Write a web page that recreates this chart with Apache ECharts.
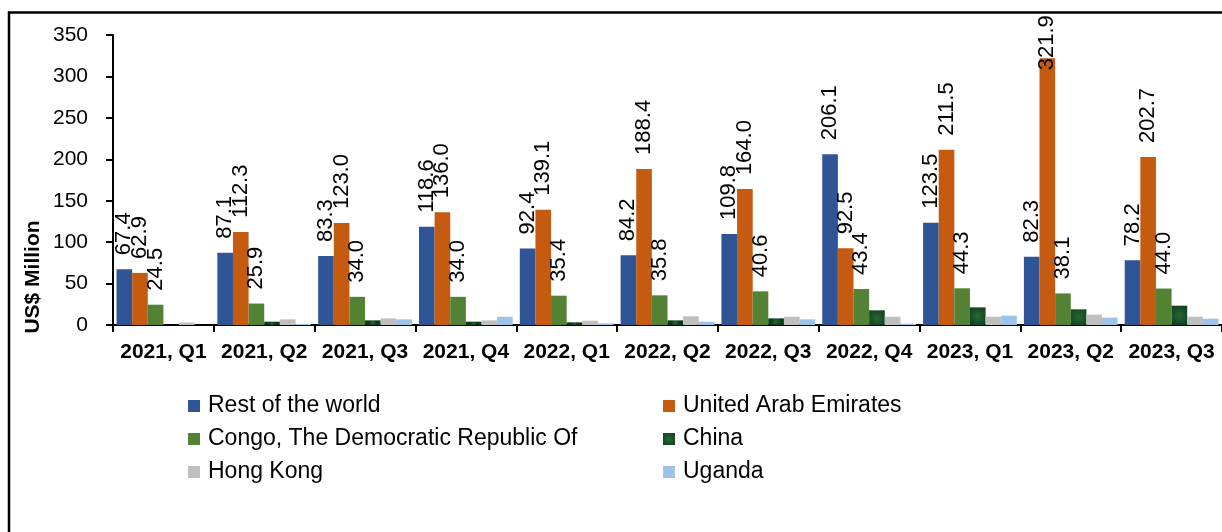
<!DOCTYPE html>
<html>
<head>
<meta charset="utf-8">
<script src="https://cdn.jsdelivr.net/npm/echarts@6/dist/echarts.min.js"></script>
<style>
  html, body { margin: 0; padding: 0; background: #fff; }
  #chart { width: 1222px; height: 532px; }
</style>
</head>
<body>
<div id="chart"></div>
<script>
// quarters on the x axis
const quarters = ['2021, Q1', '2021, Q2', '2021, Q3', '2021, Q4', '2022, Q1', '2022, Q2',
  '2022, Q3', '2022, Q4', '2023, Q1', '2023, Q2', '2023, Q3']
const yTicks = [0, 50, 100, 150, 200, 250, 300, 350]

// values in US$ million
const restOfWorld = [67.4, 87.1, 83.3, 118.6, 92.4, 84.2, 109.8, 206.1, 123.5, 82.3, 78.2]
const uae = [62.9, 112.3, 123.0, 136.0, 139.1, 188.4, 164.0, 92.5, 211.5, 321.9, 202.7]
const congo = [24.5, 25.9, 34.0, 34.0, 35.4, 35.8, 40.6, 43.4, 44.3, 38.1, 44.0]
const china = [0, 4.0, 5.6, 4.0, 3.2, 5.6, 8.0, 17.7, 21.3, 18.9, 23.3]
const hongKong = [3.0, 6.8, 8.0, 5.6, 5.2, 10.5, 10.0, 10.0, 10.0, 12.5, 10.0]
const uganda = [0, 1.2, 6.8, 10.0, 2.0, 4.0, 6.8, 1.6, 11.3, 8.9, 7.6]

const font = 'Liberation Sans, Arial, sans-serif'

var chart = echarts.init(document.getElementById('chart'))

// rotated value labels like the excel ones
const valLabel = {
  show: true,
  position: 'top',
  rotate: 90,
  align: 'left',
  verticalAlign: 'middle',
  distance: 14,
  fontFamily: font,
  fontSize: 22,
  color: '#000',
  formatter: p => p.value.toFixed(1)
}

// the biggest bar has no room above it, label sits inside the top
const uaeData = uae.map(v => v > 300
  ? { value: v, label: { position: 'insideTop', distance: 12 } }
  : v)

const chinaColor = {
  type: 'radial', x: 0.5, y: 0.5, r: 0.8,
  colorStops: [{ offset: 0, color: '#2a6636' }, { offset: 1, color: '#0a3b18' }]
}

const legendBase = {
  orient: 'vertical',
  top: 389,
  icon: 'rect',
  itemWidth: 12,
  itemHeight: 12,
  itemGap: 9,
  textStyle: { fontFamily: font, fontSize: 23, color: '#000', lineHeight: 24, padding: [0, 0, 0, 3] }
}

chart.setOption({
  animation: false,
  grid: { left: 113, top: 35, width: 1110, bottom: 207, containLabel: false },
  legend: [
    Object.assign({}, legendBase, { left: 183, data: ['Rest of the world', 'Congo, The Democratic Republic Of', 'Hong Kong'] }),
    Object.assign({}, legendBase, { left: 658, data: ['United Arab Emirates', 'China', 'Uganda'] })
  ],
  xAxis: {
    type: 'category',
    data: quarters,
    axisLine: { lineStyle: { color: '#000', width: 2 } },
    axisTick: { show: true, length: 7, lineStyle: { color: '#000', width: 2 } },
    axisLabel: { fontFamily: font, fontSize: 21, fontWeight: 'bold', color: '#000', margin: 17, interval: 0 }
  },
  yAxis: {
    type: 'value',
    min: yTicks[0],
    max: yTicks[yTicks.length - 1],
    interval: 50,
    splitLine: { show: false },
    axisLine: { show: true, lineStyle: { color: '#000', width: 2 } },
    axisTick: { show: true, length: 7, lineStyle: { color: '#000', width: 2 } },
    axisLabel: { fontFamily: font, fontSize: 21, color: '#000', margin: 25 }
  },
  graphic: [
    // outer frame of the figure
    { type: 'polyline', shape: { points: [[9, 532], [9, 12.5], [1222, 12.5]] }, style: { stroke: '#000', lineWidth: 2.5, fill: null } },
    {
      type: 'text', x: 33, y: 277, rotation: Math.PI / 2,
      style: { text: 'US$ Million', font: 'bold 21px ' + font, fill: '#000', textAlign: 'center', textVerticalAlign: 'middle' }
    }
  ],
  series: [
    { name: 'Rest of the world', type: 'bar', data: restOfWorld, itemStyle: { color: '#2F5597' }, label: valLabel, barGap: '0%', barCategoryGap: '7%' },
    { name: 'United Arab Emirates', type: 'bar', data: uaeData, itemStyle: { color: '#C55A11' }, label: valLabel },
    { name: 'Congo, The Democratic Republic Of', type: 'bar', data: congo, itemStyle: { color: '#548235' }, label: valLabel },
    { name: 'China', type: 'bar', data: china, itemStyle: { color: chinaColor } },
    { name: 'Hong Kong', type: 'bar', data: hongKong, itemStyle: { color: '#BFBFBF' } },
    { name: 'Uganda', type: 'bar', data: uganda, itemStyle: { color: '#9DC3E6' } }
  ]
})
</script>
</body>
</html>
